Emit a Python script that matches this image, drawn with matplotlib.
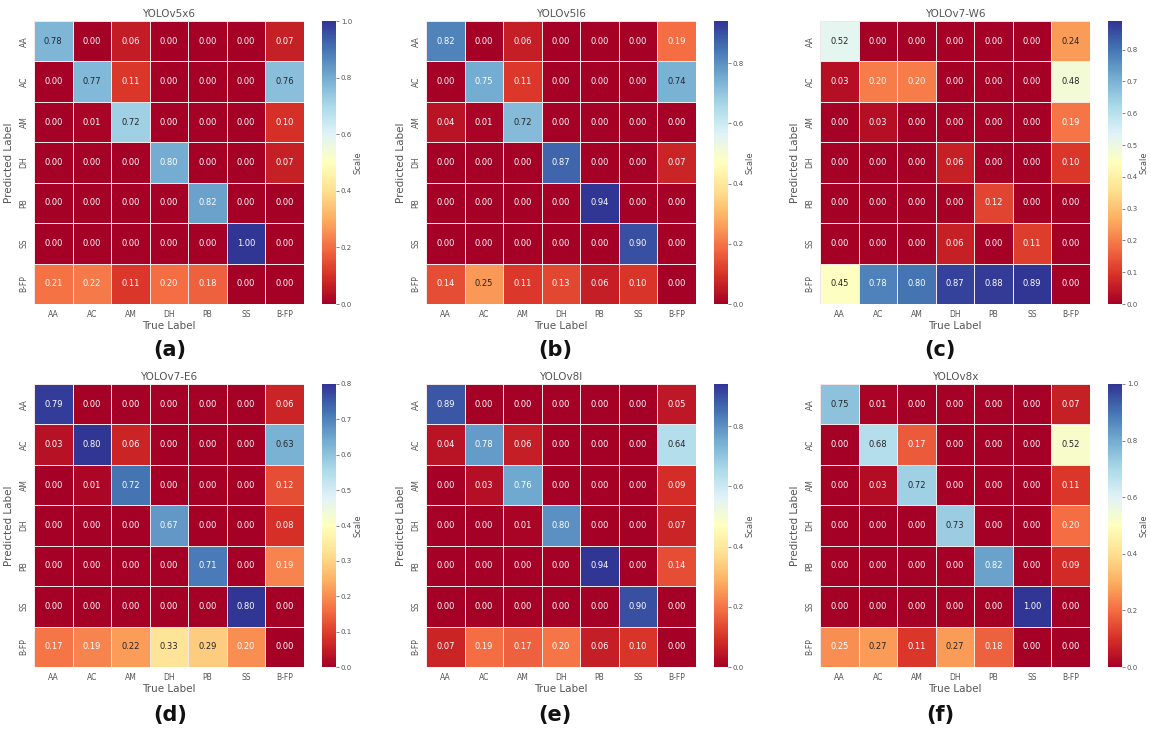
import numpy as np
import matplotlib
matplotlib.use("Agg")
import matplotlib.pyplot as plt
import seaborn as sns

labels = ["AA", "AC", "AM", "DH", "PB", "SS", "B-FP"]

titles = ["YOLOv5x6", "YOLOv5l6", "YOLOv7-W6", "YOLOv7-E6", "YOLOv8l", "YOLOv8x"]
panel_tags = ["(a)", "(b)", "(c)", "(d)", "(e)", "(f)"]

# rows: predicted label, columns: true label
yolov5x6 = [
    [0.78, 0.00, 0.06, 0.00, 0.00, 0.00, 0.07],
    [0.00, 0.77, 0.11, 0.00, 0.00, 0.00, 0.76],
    [0.00, 0.01, 0.72, 0.00, 0.00, 0.00, 0.10],
    [0.00, 0.00, 0.00, 0.80, 0.00, 0.00, 0.07],
    [0.00, 0.00, 0.00, 0.00, 0.82, 0.00, 0.00],
    [0.00, 0.00, 0.00, 0.00, 0.00, 1.00, 0.00],
    [0.21, 0.22, 0.11, 0.20, 0.18, 0.00, 0.00],
]
yolov5l6 = [
    [0.82, 0.00, 0.06, 0.00, 0.00, 0.00, 0.19],
    [0.00, 0.75, 0.11, 0.00, 0.00, 0.00, 0.74],
    [0.04, 0.01, 0.72, 0.00, 0.00, 0.00, 0.00],
    [0.00, 0.00, 0.00, 0.87, 0.00, 0.00, 0.07],
    [0.00, 0.00, 0.00, 0.00, 0.94, 0.00, 0.00],
    [0.00, 0.00, 0.00, 0.00, 0.00, 0.90, 0.00],
    [0.14, 0.25, 0.11, 0.13, 0.06, 0.10, 0.00],
]
yolov7_w6 = [
    [0.52, 0.00, 0.00, 0.00, 0.00, 0.00, 0.24],
    [0.03, 0.20, 0.20, 0.00, 0.00, 0.00, 0.48],
    [0.00, 0.03, 0.00, 0.00, 0.00, 0.00, 0.19],
    [0.00, 0.00, 0.00, 0.06, 0.00, 0.00, 0.10],
    [0.00, 0.00, 0.00, 0.00, 0.12, 0.00, 0.00],
    [0.00, 0.00, 0.00, 0.06, 0.00, 0.11, 0.00],
    [0.45, 0.78, 0.80, 0.87, 0.88, 0.89, 0.00],
]
yolov7_e6 = [
    [0.79, 0.00, 0.00, 0.00, 0.00, 0.00, 0.06],
    [0.03, 0.80, 0.06, 0.00, 0.00, 0.00, 0.63],
    [0.00, 0.01, 0.72, 0.00, 0.00, 0.00, 0.12],
    [0.00, 0.00, 0.00, 0.67, 0.00, 0.00, 0.08],
    [0.00, 0.00, 0.00, 0.00, 0.71, 0.00, 0.19],
    [0.00, 0.00, 0.00, 0.00, 0.00, 0.80, 0.00],
    [0.17, 0.19, 0.22, 0.33, 0.29, 0.20, 0.00],
]
yolov8l = [
    [0.89, 0.00, 0.00, 0.00, 0.00, 0.00, 0.05],
    [0.04, 0.78, 0.06, 0.00, 0.00, 0.00, 0.64],
    [0.00, 0.03, 0.76, 0.00, 0.00, 0.00, 0.09],
    [0.00, 0.00, 0.01, 0.80, 0.00, 0.00, 0.07],
    [0.00, 0.00, 0.00, 0.00, 0.94, 0.00, 0.14],
    [0.00, 0.00, 0.00, 0.00, 0.00, 0.90, 0.00],
    [0.07, 0.19, 0.17, 0.20, 0.06, 0.10, 0.00],
]
yolov8x = [
    [0.75, 0.01, 0.00, 0.00, 0.00, 0.00, 0.07],
    [0.00, 0.68, 0.17, 0.00, 0.00, 0.00, 0.52],
    [0.00, 0.03, 0.72, 0.00, 0.00, 0.00, 0.11],
    [0.00, 0.00, 0.00, 0.73, 0.00, 0.00, 0.20],
    [0.00, 0.00, 0.00, 0.00, 0.82, 0.00, 0.09],
    [0.00, 0.00, 0.00, 0.00, 0.00, 1.00, 0.00],
    [0.25, 0.27, 0.11, 0.27, 0.18, 0.00, 0.00],
]
matrices = [yolov5x6, yolov5l6, yolov7_w6, yolov7_e6, yolov8l, yolov8x]

W, H = 1151, 730
fig = plt.figure(figsize=(W / 100, H / 100), dpi=100)

# layout in pixels: heatmap left edges, row tops/bottoms
col_left = [34, 426, 820]
row_top = [21, 384]
row_bot = [304, 667]
hm_w = 270
cb_gap = 18
cb_w = 14
tag_x = [170, 555, 940]
tag_y = [350, 715]

text_col = "#555555"


def px_axes(x0, y0, x1, y1):
    return fig.add_axes([x0 / W, 1 - y1 / H, (x1 - x0) / W, (y1 - y0) / H])


for i, (mat, title, tag) in enumerate(zip(matrices, titles, panel_tags)):
    r, c = divmod(i, 3)
    x0 = col_left[c]
    y0, y1 = row_top[r], row_bot[r]
    ax = px_axes(x0, y0, x0 + hm_w, y1)
    cax = px_axes(x0 + hm_w + cb_gap, y0, x0 + hm_w + cb_gap + cb_w, y1)
    data = np.array(mat)
    sns.heatmap(data, ax=ax, cbar_ax=cax, cmap="RdYlBu", annot=True, fmt=".2f",
                annot_kws={"fontsize": 6}, linewidths=0.6, linecolor="#f4e6e6",
                xticklabels=labels, yticklabels=labels,
                cbar_kws={"label": "Scale"})
    ax.set_title(title, fontsize=7.5, color=text_col, pad=3)
    ax.set_xlabel("True Label", fontsize=7.5, color=text_col, labelpad=2)
    ax.set_ylabel("Predicted Label", fontsize=7.5, color=text_col, labelpad=4)
    ax.tick_params(axis="both", labelsize=5.5, colors=text_col, length=0, pad=4)
    plt.setp(ax.get_xticklabels(), rotation=0)
    plt.setp(ax.get_yticklabels(), rotation=90, va="center")
    cax.tick_params(labelsize=5, colors=text_col, length=2, width=0.5, pad=1.5)
    cax.set_ylabel("Scale", fontsize=6, color=text_col, labelpad=1)
    for s in cax.spines.values():
        s.set_visible(False)
    fig.text(tag_x[c] / W, 1 - tag_y[r] / H, tag, fontsize=15, fontweight="bold",
             ha="center", va="center", color="#111111")

fig.savefig("out.png", dpi=100)
